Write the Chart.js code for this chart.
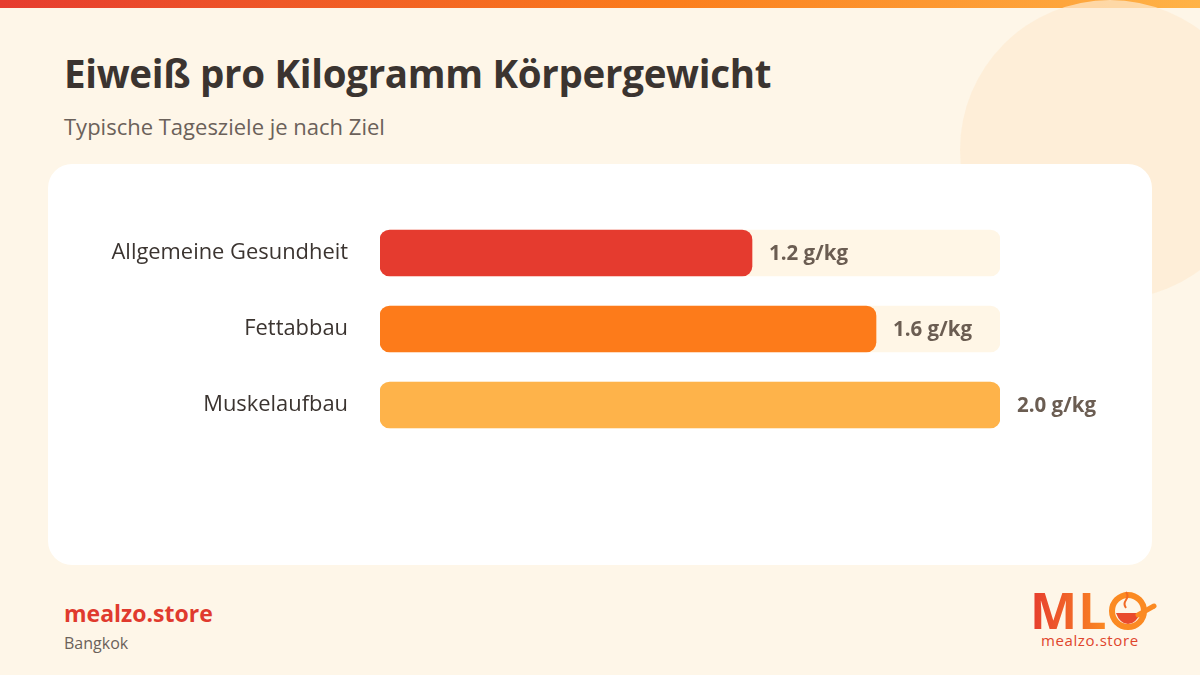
<!DOCTYPE html>
<html>
<head>
<meta charset="utf-8">
<script src="https://cdn.jsdelivr.net/npm/chart.js@4.4.1/dist/chart.umd.min.js"></script>
<style>
  html,body{margin:0;padding:0;}
  body{width:1200px;height:675px;position:relative;overflow:hidden;background:#fef6e8;font-family:"Open Sans","Noto Sans",sans-serif;}
  .topbar{position:absolute;left:0;top:0;width:1200px;height:8px;background:linear-gradient(90deg,#e63c2f,#fb7d1c 55%,#ffb347);}
  .blob{position:absolute;left:960px;top:0px;width:300px;height:300px;border-radius:50%;background:#fdebd2;opacity:.7;}
  h1{position:absolute;left:64px;top:47px;margin:0;font-size:38.5px;font-weight:700;color:#3b3430;letter-spacing:-0.3px;}
  .sub{position:absolute;left:64px;top:111px;font-size:22px;color:#6b615a;}
  .card{position:absolute;left:48px;top:164px;width:1104px;height:401px;background:#fff;border-radius:24px;}
  #chart{position:absolute;left:48px;top:164px;}
  .brand{position:absolute;left:64px;top:597px;font-size:23px;font-weight:700;color:#e03a2e;}
  .city{position:absolute;left:64px;top:632px;font-size:16px;color:#6b615a;}
  .logo{position:absolute;left:1025px;top:585px;}
</style>
</head>
<body>
<div class="topbar"></div>
<div class="blob"></div>
<h1>Eiweiß pro Kilogramm Körpergewicht</h1>
<div class="sub">Typische Tagesziele je nach Ziel</div>
<div class="card"></div>
<canvas id="chart" width="1104" height="401"></canvas>
<div class="brand">mealzo.store</div>
<div class="city">Bangkok</div>
<svg class="logo" width="140" height="70" viewBox="0 0 140 70">
  <defs>
    <linearGradient id="lg" x1="0" x2="1" y1="0" y2="0">
      <stop offset="0" stop-color="#e63c2f"/>
      <stop offset="1" stop-color="#fb8a22"/>
    </linearGradient>
  </defs>
  <text x="5" y="44" font-family="Open Sans" font-weight="700" font-size="50" fill="url(#lg)" letter-spacing="1">ML</text>
  <circle cx="103" cy="26" r="16" fill="none" stroke="#fb8a22" stroke-width="6"/>
  <path d="M91 28 L115 28 Q111 39 103 39 Q95 39 91 28 Z" fill="#e94b2c"/>
  <path d="M113 30 L129 21" stroke="#fb8a22" stroke-width="5" stroke-linecap="round"/>
  <path d="M101 23 q-3 -4 0 -8 q3 -4 0 -8" fill="none" stroke="#f26a24" stroke-width="2"/>
  <text x="16" y="61" font-family="Open Sans" font-size="15" fill="#e0452c" letter-spacing="0.6">mealzo.store</text>
</svg>
<script>
const categories = ["Allgemeine Gesundheit", "Fettabbau", "Muskelaufbau"];
const proteinValues = [1.2, 1.6, 2.0];
const barColors = ["#e53b2f", "#fd7b1a", "#feb34a"];
const valueUnit = " g/kg";
const scaleMax = 2.0;

const valueLabels = {
  id: "valueLabels",
  afterDatasetsDraw(chart) {
    const ctx = chart.ctx;
    const meta = chart.getDatasetMeta(1);
    ctx.save();
    ctx.font = "700 20.5px 'Open Sans'";
    ctx.fillStyle = "#6b5d52";
    ctx.textBaseline = "middle";
    ctx.textAlign = "left";
    meta.data.forEach((bar, i) => {
      ctx.fillText(proteinValues[i].toFixed(1) + valueUnit, bar.x + 17, bar.y + 1);
    });
    ctx.restore();
  }
};

new Chart(document.getElementById("chart"), {
  type: "bar",
  data: {
    labels: categories,
    datasets: [
      {
        data: categories.map(() => scaleMax),
        backgroundColor: "#fff6e6",
        borderRadius: 10,
        borderSkipped: false,
        barThickness: 46,
        grouped: false,
        order: 2
      },
      {
        data: proteinValues,
        backgroundColor: barColors,
        borderRadius: 10,
        borderSkipped: false,
        barThickness: 46,
        grouped: false,
        order: 1
      }
    ]
  },
  options: {
    indexAxis: "y",
    responsive: false,
    animation: false,
    layout: { padding: { top: 51, bottom: 122, left: 0, right: 152 } },
    plugins: { legend: { display: false }, tooltip: { enabled: false } },
    scales: {
      x: { min: 0, max: scaleMax, display: false },
      y: {
        grid: { display: false, drawTicks: false },
        border: { display: false },
        ticks: {
          padding: 32,
          color: "#3b3430",
          font: { family: "'Open Sans'", size: 21.9 }
        },
        afterFit(scale) { scale.width = 332; }
      }
    }
  },
  plugins: [valueLabels]
});
</script>
</body>
</html>
